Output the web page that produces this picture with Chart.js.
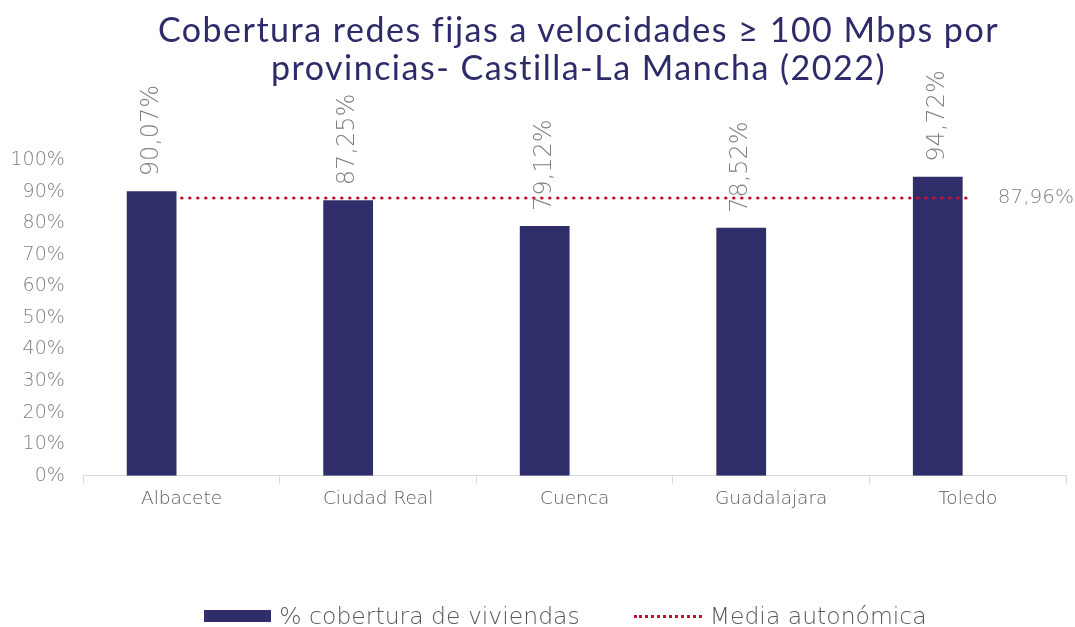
<!DOCTYPE html>
<html lang="es">
<head>
<meta charset="UTF-8">
<title>Cobertura redes fijas</title>
<style>
    body { margin: 0; background: #fff; font-family: 'DejaVu Sans', sans-serif; }
    .wrap { position: relative; width: 1075px; height: 627px; }
    canvas { position: absolute; left: 0; top: 0; }
    .title {
        position: absolute; left: 41px; top: 10px; width: 1075px;
        text-align: center; color: #2e2b6b; font-family: 'Lato', sans-serif;
        font-size: 34px; line-height: 38px; font-weight: 400; letter-spacing: 1.5px;
    }
    .legend {
        position: absolute; left: 28px; top: 602px; width: 1075px;
        display: flex; justify-content: center; align-items: center;
        color: #595959; font-size: 23.5px; font-weight: 200;
    }
    .legend .swatch { width: 67px; height: 12px; background: #302e6a; margin-right: 8px; }
    .legend .dots { width: 68px; border-top: 3px dotted #c8102e; margin: 0 8px 0 54px; }
</style>
</head>
<body>
<div class="wrap">
    <canvas id="chart" width="1075" height="627"></canvas>
    <div class="title">Cobertura redes fijas a velocidades ≥ 100 Mbps por<br>provincias- Castilla-La Mancha (2022)</div>
    <div class="legend">
        <span class="swatch"></span><span>% cobertura de viviendas</span>
        <span class="dots"></span><span>Media autonómica</span>
    </div>
</div>
<script src="https://cdn.jsdelivr.net/npm/chart.js"></script>
<script>
const provincias = ['Albacete', 'Ciudad Real', 'Cuenca', 'Guadalajara', 'Toledo'];
const cobertura = [90.07, 87.25, 79.12, 78.52, 94.72];
const mediaAutonomica = [87.96, 87.96, 87.96, 87.96, 87.96];
const yTicks = [0, 10, 20, 30, 40, 50, 60, 70, 80, 90, 100];

const fmt = v => v.toFixed(2).replace('.', ',') + '%';

// rotated labels above bars + label for the average line
const labelsPlugin = {
    id: 'labels',
    afterDatasetsDraw(chart) {
        const ctx = chart.ctx;
        ctx.save();
        ctx.fillStyle = '#7f7f7f';
        ctx.font = '200 24px "DejaVu Sans"';
        chart.getDatasetMeta(0).data.forEach((bar, i) => {
            ctx.save();
            ctx.translate(bar.x, bar.y - 15);
            ctx.rotate(-Math.PI / 2);
            ctx.textAlign = 'left';
            ctx.textBaseline = 'middle';
            ctx.fillText(fmt(cobertura[i]), 0, 0);
            ctx.restore();
        });
        const pts = chart.getDatasetMeta(2).data;
        const last = pts[pts.length - 1];
        ctx.font = '200 20px "DejaVu Sans"';
        ctx.textAlign = 'left';
        ctx.textBaseline = 'middle';
        ctx.fillText(fmt(mediaAutonomica[mediaAutonomica.length - 1]), last.x + 30, last.y);
        ctx.restore();
    }
};

new Chart(document.getElementById('chart'), {
    type: 'bar',
    data: {
        labels: provincias,
        datasets: [
            {
                label: '% cobertura de viviendas',
                data: cobertura,
                backgroundColor: '#302e6a',
                categoryPercentage: 0.61,
                barPercentage: 0.83,
                order: 2
            },
            {
                label: '',
                data: provincias.map(() => null),
                categoryPercentage: 0.61,
                barPercentage: 0.83,
                order: 3
            },
            {
                type: 'line',
                label: 'Media autonómica',
                data: mediaAutonomica,
                borderColor: '#c8102e',
                borderWidth: 3,
                borderDash: [0.5, 7.5],
                borderCapStyle: 'round',
                pointRadius: 0,
                fill: false,
                order: 1
            }
        ]
    },
    options: {
        responsive: false,
        animation: false,
        layout: { padding: { top: 160, right: 9, bottom: 113, left: 0 } },
        plugins: {
            legend: { display: false },
            title: { display: false },
            tooltip: { enabled: false }
        },
        scales: {
            x: {
                grid: { display: true, drawOnChartArea: false, color: '#d9d9d9', tickLength: 8, offset: true },
                border: { color: '#d9d9d9' },
                ticks: { color: '#595959', font: { family: 'DejaVu Sans', size: 18.5, weight: 200 }, padding: 4 }
            },
            y: {
                min: 0,
                max: 100,
                afterBuildTicks: axis => { axis.ticks = yTicks.map(v => ({ value: v })); },
                grid: { display: false },
                border: { display: false },
                ticks: {
                    color: '#7f7f7f',
                    font: { family: 'DejaVu Sans', size: 19, weight: 200 },
                    padding: 10.5,
                    callback: v => v + '%'
                }
            }
        }
    },
    plugins: [labelsPlugin]
});
</script>
</body>
</html>
